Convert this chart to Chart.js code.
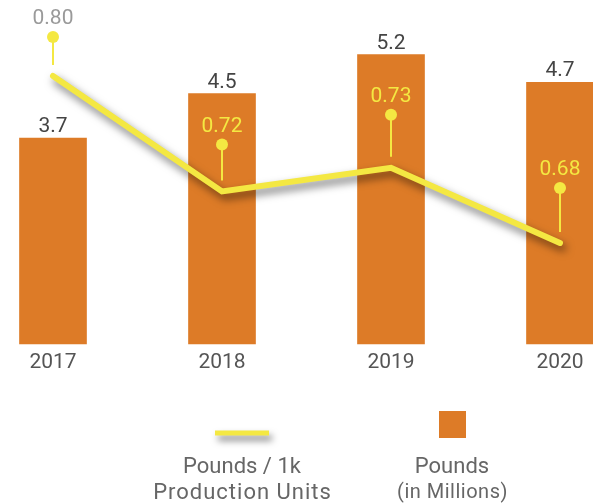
<!DOCTYPE html>
<html>
<head>
<meta charset="utf-8">
<script src="https://cdn.jsdelivr.net/npm/chart.js@4"></script>
<style>
  html, body { margin: 0; padding: 0; background: #fff; }
  #wrap { position: relative; width: 593px; height: 503px; }
</style>
</head>
<body>
<div id="wrap"><canvas id="c" width="593" height="503"></canvas></div>
<script>
// ---- data ----
const years = ['2017', '2018', '2019', '2020'];
const poundsMillions = [3.7, 4.5, 5.2, 4.7];
const poundsPer1k = [0.80, 0.717, 0.734, 0.68];
const legendLineLabel = ['Pounds / 1k', 'Production Units'];
const legendBarLabel = ['Pounds', '(in Millions)'];

// ---- styles ----
const ORANGE = '#DD7B27';
const YELLOW = '#F4E842';
const FONT = 'Roboto, "Noto Sans", sans-serif';
const lollipopRise = [39, 47, 53, 55];      // circle height above point (px)
const lineLabelColors = ['#9a9a9a', YELLOW, YELLOW, YELLOW];

const shadowPlugin = {
  id: 'lineShadow',
  beforeDatasetDraw(chart, args) {
    if (chart.data.datasets[args.index].type === 'line') {
      const ctx = chart.ctx;
      ctx.save();
      ctx.shadowColor = 'rgba(0,0,0,0.55)';
      ctx.shadowBlur = 8;
      ctx.shadowOffsetX = 3;
      ctx.shadowOffsetY = 5;
    }
  },
  afterDatasetDraw(chart, args) {
    if (chart.data.datasets[args.index].type === 'line') chart.ctx.restore();
  }
};

const labelsPlugin = {
  id: 'labels',
  afterDatasetsDraw(chart) {
    const ctx = chart.ctx;
    ctx.save();
    // bar value labels
    const barMeta = chart.getDatasetMeta(1);
    ctx.font = '21px ' + FONT;
    ctx.textAlign = 'center';
    ctx.textBaseline = 'alphabetic';
    ctx.fillStyle = '#444';
    barMeta.data.forEach((el, i) => {
      ctx.fillText(poundsMillions[i].toFixed(1), el.x, el.y - 6);
    });
    // line lollipop labels
    const lineMeta = chart.getDatasetMeta(0);
    lineMeta.data.forEach((el, i) => {
      const cy = el.y - lollipopRise[i];
      ctx.strokeStyle = YELLOW;
      ctx.lineWidth = 2;
      ctx.beginPath();
      ctx.moveTo(el.x, cy);
      ctx.lineTo(el.x, el.y - 11);
      ctx.stroke();
      ctx.fillStyle = YELLOW;
      ctx.beginPath();
      ctx.arc(el.x, cy, 6, 0, Math.PI * 2);
      ctx.fill();
      ctx.fillStyle = lineLabelColors[i];
      ctx.font = '21px ' + FONT;
      ctx.fillText(poundsPer1k[i].toFixed(2), el.x, cy - 12.5);
    });
    ctx.restore();
  },
  afterDraw(chart) {
    const ctx = chart.ctx;
    ctx.save();
    // legend: line symbol
    ctx.save();
    ctx.shadowColor = 'rgba(0,0,0,0.5)';
    ctx.shadowBlur = 7;
    ctx.shadowOffsetX = 3;
    ctx.shadowOffsetY = 5;
    ctx.fillStyle = YELLOW;
    ctx.fillRect(215, 430.5, 54, 5);
    ctx.restore();
    // legend: bar symbol
    ctx.fillStyle = ORANGE;
    ctx.fillRect(439, 411, 27, 27);
    // legend texts
    ctx.fillStyle = '#666';
    ctx.textAlign = 'center';
    ctx.textBaseline = 'alphabetic';
    ctx.font = '22px ' + FONT;
    ctx.fillText(legendLineLabel[0], 242, 473);
    ctx.fillText(legendBarLabel[0], 452, 473);
    ctx.letterSpacing = '1px';
    ctx.fillText(legendLineLabel[1], 242.5, 499);
    ctx.letterSpacing = '0.5px';
    ctx.font = '20px ' + FONT;
    ctx.fillText(legendBarLabel[1], 452.5, 498);
    ctx.restore();
  }
};

new Chart(document.getElementById('c'), {
  data: {
    labels: years,
    datasets: [
      {
        type: 'line',
        label: legendLineLabel.join(' '),
        data: poundsPer1k,
        yAxisID: 'y2',
        borderColor: YELLOW,
        borderWidth: 6,
        borderCapStyle: 'round',
        borderJoinStyle: 'miter',
        tension: 0,
        pointRadius: 0,
        clip: false,
        order: 0
      },
      {
        type: 'bar',
        label: legendBarLabel.join(' '),
        data: poundsMillions,
        yAxisID: 'y',
        backgroundColor: ORANGE,
        barThickness: 67,
        clip: false,
        order: 1
      }
    ]
  },
  options: {
    responsive: false,
    animation: false,
    layout: { padding: { left: 53, right: 33, top: 10, bottom: 121.8 } },
    plugins: { legend: { display: false }, tooltip: { enabled: false } },
    scales: {
      x: {
        offset: false,
        grid: { display: false, drawTicks: false },
        border: { display: false },
        ticks: { color: '#555', font: { family: FONT, size: 21 }, padding: 6, maxRotation: 0 }
      },
      y: { display: false, min: 0, max: 6 },
      y2: { display: false, min: 0.6074, max: 0.8474 }
    }
  },
  plugins: [shadowPlugin, labelsPlugin]
});
</script>
</body>
</html>
